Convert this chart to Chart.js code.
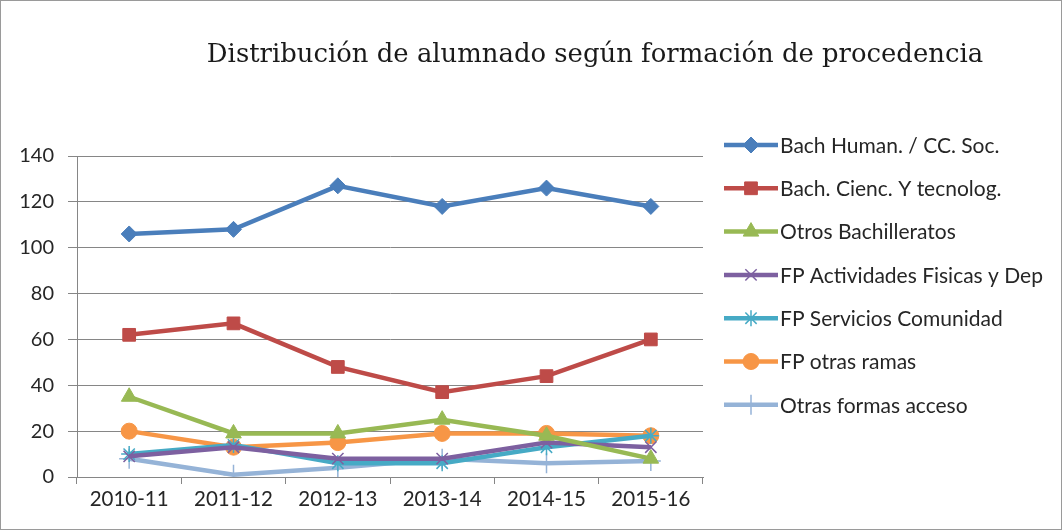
<!DOCTYPE html>
<html>
<head>
<meta charset="utf-8">
<script src="https://cdn.jsdelivr.net/npm/chart.js@4"></script>
<style>
  html, body { margin: 0; padding: 0; background: #fff; }
  #wrap { position: relative; width: 1062px; height: 530px; box-sizing: border-box; border: 1px solid #9a9a9a; }
  canvas { display: block; }
</style>
</head>
<body>
<div id="wrap"><canvas id="chart" width="1060" height="528"></canvas></div>
<script>
const chartTitle = 'Distribución de alumnado según formación de procedencia';
const courses = ['2010-11', '2011-12', '2012-13', '2013-14', '2014-15', '2015-16'];
const seriesNames = [
  'Bach Human. / CC. Soc.',
  'Bach. Cienc. Y tecnolog.',
  'Otros Bachilleratos',
  'FP Actividades Fisicas y Dep',
  'FP Servicios Comunidad',
  'FP otras ramas',
  'Otras formas acceso'
];
const bachHuman = [106, 108, 127, 118, 126, 118];
const bachCienc = [62, 67, 48, 37, 44, 60];
const otrosBach = [35, 19, 19, 25, 18, 8];
const fpActividades = [9, 13, 8, 8, 15, 13];
const fpServicios = [10, 14, 6, 6, 13, 18];
const fpOtras = [20, 13, 15, 19, 19, 18];
const otrasFormas = [8, 1, 4, 8, 6, 7];
const yTicks = [0, 20, 40, 60, 80, 100, 120, 140];

const seriesValues = [bachHuman, bachCienc, otrosBach, fpActividades, fpServicios, fpOtras, otrasFormas];
const colors = ['#4a7ebb', '#be4b48', '#98b954', '#7d60a0', '#46aac5', '#f79646', '#95b3d7'];
const markers = ['rectRot', 'rect', 'triangle', 'crossRot', 'star', 'circle', 'cross'];
const markerSizes = [8, 9, 9, 8, 8, 8, 10];

const isLineMarker = m => m === 'crossRot' || m === 'star' || m === 'cross';

const datasets = seriesNames.map((name, i) => ({
  label: name,
  data: seriesValues[i],
  borderColor: colors[i],
  backgroundColor: colors[i],
  borderWidth: 4.5,
  pointStyle: markers[i],
  pointRadius: markerSizes[i],
  pointBorderWidth: isLineMarker(markers[i]) ? 1.5 : 1,
  pointBorderColor: colors[i],
  tension: 0
}));

const font = 'Lato, "Open Sans", sans-serif';

// a little tracking on all text, the original font is wider than Lato
const spacing = {
  id: 'spacing',
  beforeInit(chart) { chart.ctx.letterSpacing = '1px'; }
};

// title drawn off-centre, like the original
const titlePlugin = {
  id: 'titlePlugin',
  afterDraw(chart) {
    const ctx = chart.ctx;
    ctx.save();
    ctx.letterSpacing = '0px';
    ctx.font = '20px "DejaVu Serif", serif';
    const w = ctx.measureText(chartTitle).width;
    const size = Math.min(26, 20 * 776 / w);
    ctx.font = size.toFixed(1) + 'px "DejaVu Serif", serif';
    ctx.fillStyle = '#1a1a1a';
    ctx.textAlign = 'center';
    ctx.textBaseline = 'middle';
    ctx.fillText(chartTitle, 594, 54);
    ctx.restore();
  }
};

// legend with line + marker samples on the right
const sideLegend = {
  id: 'sideLegend',
  afterDraw(chart) {
    const ctx = chart.ctx;
    const x0 = 723, x1 = 777, yStart = 144, gap = 43.3;
    chart.data.datasets.forEach((ds, i) => {
      const y = yStart + i * gap;
      ctx.save();
      ctx.strokeStyle = ds.borderColor;
      ctx.lineWidth = 4.5;
      ctx.beginPath();
      ctx.moveTo(x0, y);
      ctx.lineTo(x1, y);
      ctx.stroke();
      ctx.fillStyle = ds.backgroundColor;
      ctx.strokeStyle = ds.borderColor;
      ctx.lineWidth = ds.pointBorderWidth;
      Chart.helpers.drawPoint(ctx, { pointStyle: ds.pointStyle, radius: ds.pointRadius, borderWidth: ds.pointBorderWidth, rotation: 0 }, (x0 + x1) / 2, y);
      ctx.fillStyle = '#262626';
      ctx.font = '21px ' + font;
      ctx.textAlign = 'left';
      ctx.textBaseline = 'middle';
      ctx.fillText(ds.label, x1 + 2, y + 1);
      ctx.restore();
    });
  }
};

new Chart(document.getElementById('chart'), {
  type: 'line',
  data: { labels: courses, datasets },
  options: {
    responsive: false,
    animation: false,
    layout: { padding: { left: 0, top: 155, right: 358, bottom: 0 } },
    plugins: {
      legend: { display: false },
      title: { display: false },
      tooltip: { enabled: false }
    },
    scales: {
      x: {
        offset: true,
        afterFit(scale) { scale.height = 52; },
        grid: { offset: true, drawOnChartArea: false, color: '#868686', tickLength: 7 },
        border: { color: '#868686', width: 1 },
        ticks: { color: '#262626', font: { family: font, size: 20.5 }, padding: 3, maxRotation: 0 }
      },
      y: {
        min: 0,
        max: 140,
        afterFit(scale) { scale.width = 76; },
        afterBuildTicks(axis) { axis.ticks = yTicks.map(v => ({ value: v })); },
        grid: { color: '#868686', lineWidth: 1, tickLength: 9 },
        border: { color: '#868686', width: 1 },
        ticks: { color: '#262626', font: { family: font, size: 20 }, padding: 14 }
      }
    }
  },
  plugins: [spacing, titlePlugin, sideLegend]
});
</script>
</body>
</html>
